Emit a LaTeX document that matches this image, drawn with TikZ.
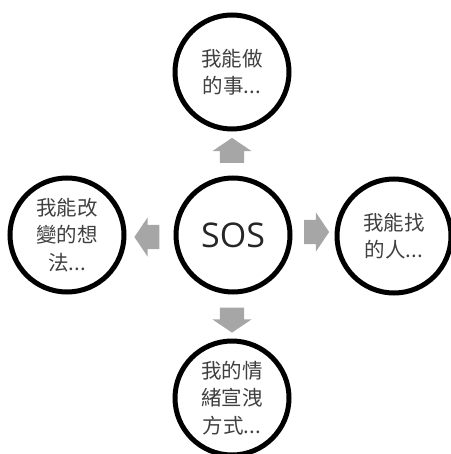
\documentclass[tikz,border=0pt]{standalone}
\usepackage{fontspec}
\setmainfont{Noto Sans CJK TC}
\newfontfamily\sosfont{Open Sans}
\usetikzlibrary{shapes.arrows}

\definecolor{arrowgray}{HTML}{A6A6A6}
\definecolor{textgray}{HTML}{404040}

\tikzset{
  ring/.style={draw=black, line width=5pt, circle, minimum size=114pt,
    inner sep=0pt, text=textgray, align=center,
    font=\fontsize{20.5}{27.5}\selectfont},
  blockarrow/.style={single arrow, fill=arrowgray, draw=none,
    inner xsep=0pt, inner ysep=12pt,
    minimum height=25pt, minimum width=39pt, single arrow head extend=7.5pt,
    single arrow tip angle=112, single arrow head indent=0pt}
}

\begin{document}
\begin{tikzpicture}[x=1pt, y=-1pt]
  \useasboundingbox (0,0) rectangle (450,454);

  % the four answers round the middle
  \node[ring] (sos) at (233,235) {\sosfont\fontsize{34}{40}\selectfont\color{black!85}SOS};
  \node[ring] (todo) at (232,72) {我能做\\的事...};
  \node[ring] (think) at (67,235) {我能改\\變的想\\法...};
  \node[ring] (people) at (394,236) {我能找\\的人...};
  \node[ring] (vent) at (232,398) {我的情\\緒宣洩\\方式...};

  % block arrows between them
  \node[blockarrow, rotate=90] (toTodo) at (232,154.5) {};
  \node[blockarrow, rotate=270] (toVent) at (232,316) {};
  \node[blockarrow, rotate=180] (toThink) at (151,237) {};
  \node[blockarrow] (toPeople) at (312.5,232) {};
\end{tikzpicture}
\end{document}
